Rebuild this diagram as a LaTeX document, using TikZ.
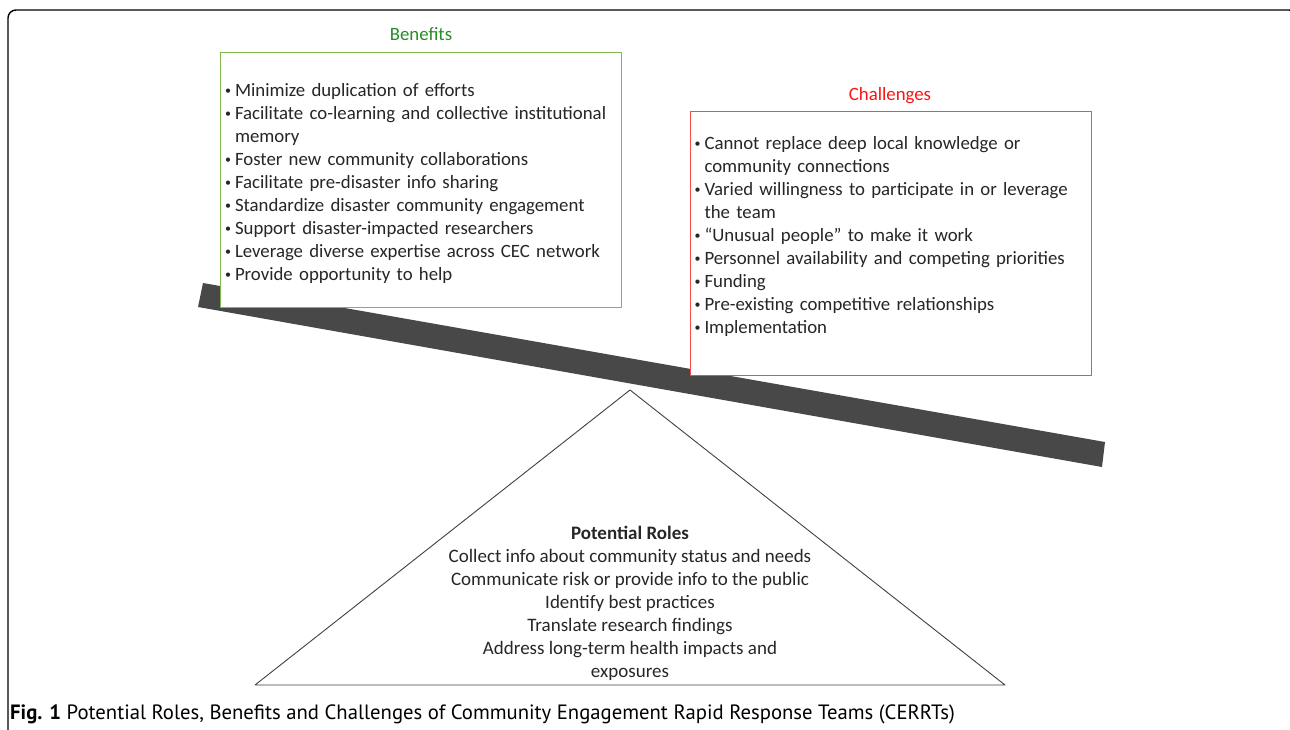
\documentclass[tikz,border=0pt]{standalone}
\usepackage{fontspec}
\setmainfont{Carlito}
\newfontfamily\capfont{PT Sans}

\definecolor{benefit_green}{RGB}{38,140,38}
\definecolor{benefit_frame}{RGB}{125,185,75}
\definecolor{challenge_red}{RGB}{250,20,20}
\definecolor{challenge_frame}{RGB}{250,75,75}
\definecolor{beam_gray}{RGB}{72,72,72}

\newcommand{\bul}{\makebox[10pt][l]{\raisebox{0.2ex}{\fontsize{12}{12}\selectfont•}}}
\newcommand{\cont}{\hspace*{10pt}}

\tikzset{
  listbox/.style={draw, fill=white, line width=1pt, anchor=north west, align=left,
    inner xsep=4pt, text=black!85, font=\fontsize{18.8}{23}\selectfont},
  headline/.style={font=\fontsize{18.8}{22}\selectfont},
}

\begin{document}
\begin{tikzpicture}[x=1pt,y=-1pt,line join=bevel,]
%%
  \useasboundingbox (0,0) rectangle (1290,730);
  \draw [black, line width=1.4pt, rounded corners=8pt] (8,10) rectangle (1297,738);

  % the beam, behind both boxes
  \fill [beam_gray] (203,283) -- (1105,442) -- (1102,467) -- (198,307) -- cycle;

  \node (benefits_title) at (421,34) [headline, text=benefit_green] {Benefits};
  \node (benefits_box) at (220,52) [listbox, draw=benefit_frame, text width=392pt,
    minimum width=401pt, minimum height=255pt] {%
    \bul\rule{0pt}{20pt}Minimize duplication of efforts\\
    \bul Facilitate co-learning and collective institutional\\
    \cont memory\\
    \bul Foster new community collaborations\\
    \bul Facilitate pre-disaster info sharing\\
    \bul Standardize disaster community engagement\\
    \bul Support disaster-impacted researchers\\
    \bul Leverage diverse expertise across CEC network\\
    \bul Provide opportunity to help};

  \node (challenges_title) at (890,96) [headline, text=challenge_red] {Challenges};
  \node (challenges_box) at (690,111) [listbox, draw=challenge_frame, text width=393pt,
    minimum width=401pt, minimum height=264pt] {%
    \bul Cannot replace deep local knowledge or\\
    \cont community connections\\
    \bul Varied willingness to participate in or leverage\\
    \cont the team\\
    \bul “Unusual people” to make it work\\
    \bul Personnel availability and competing priorities\\
    \bul Funding\\
    \bul Pre-existing competitive relationships\\
    \bul Implementation\rule[-17pt]{0pt}{17pt}};

  % fulcrum
  \coordinate (apex) at (630,390);
  \coordinate (base_right) at (1005,685);
  \coordinate (base_left) at (255,685);
  \draw [black!75, line width=0.9pt] (apex) -- (base_right) -- (base_left) -- cycle;

  \node (roles) at (630,603) [align=center, text=black!85, font=\fontsize{19}{23}\selectfont] {%
    \textbf{Potential Roles}\\
    Collect info about community status and needs\\
    Communicate risk or provide info to the public\\
    Identify best practices\\
    Translate research findings\\
    Address long-term health impacts and\\
    exposures};

  \node (caption) at (10,714) [anchor=west, inner sep=0pt, font=\capfont\fontsize{20.7}{24}\selectfont] {%
    \textbf{Fig. 1} Potential Roles, Benefits and Challenges of Community Engagement Rapid Response Teams (CERRTs)};

\end{tikzpicture}
\end{document}
